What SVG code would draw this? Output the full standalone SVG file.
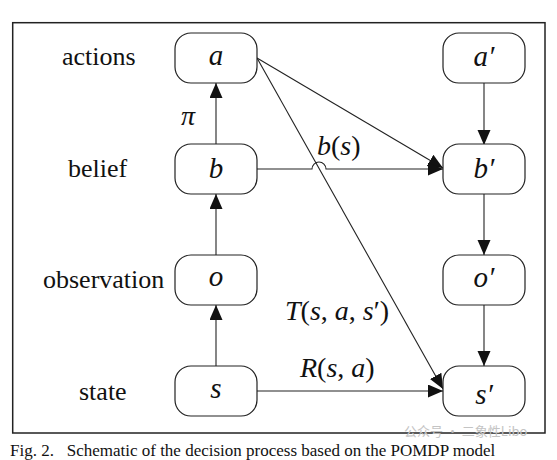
<svg xmlns="http://www.w3.org/2000/svg" width="557" height="460" viewBox="0 0 557 460">
<style>
.frame{fill:none;stroke:#222;stroke-width:1.5}
.box{fill:#fff;stroke:#222;stroke-width:1.2}
.lbl{font-family:"Liberation Serif","Times New Roman",serif;font-size:26px;fill:#111}
.nt{font-family:"Liberation Serif","Times New Roman",serif;font-size:29px;font-style:italic;fill:#111;text-anchor:middle}
.m{font-family:"Liberation Serif","Times New Roman",serif;font-size:28px;fill:#111}
.i{font-style:italic}
.cn{fill:none;stroke:#222;stroke-width:1.1}
.cap{font-family:"Liberation Serif","Times New Roman",serif;font-size:17px;fill:#111}
.wm{font-family:"Noto Sans CJK SC","Liberation Sans",sans-serif;font-size:13px;fill:#c4c4c4}
</style>
<defs>
<marker id="ah" markerUnits="userSpaceOnUse" markerWidth="16" markerHeight="14" refX="15" refY="6.5" orient="auto">
<path d="M0,0 L15,6.5 L0,13 Z" fill="#111"/>
</marker>
</defs>
<rect width="557" height="460" fill="#fff"/>
<rect class="frame" x="12.7" y="22.7" width="532.3" height="410.3"/>

<g id="row-labels">
<text class="lbl" x="62" y="65">actions</text>
<text class="lbl" x="68" y="177">belief</text>
<text class="lbl" x="43" y="288">observation</text>
<text class="lbl" x="79" y="400">state</text>
</g>

<g id="connectors">
<line class="cn" x1="216" y1="144" x2="216" y2="83" marker-end="url(#ah)"/>
<line class="cn" x1="216" y1="255" x2="216" y2="194" marker-end="url(#ah)"/>
<line class="cn" x1="216" y1="366" x2="216" y2="305" marker-end="url(#ah)"/>
<line class="cn" x1="484" y1="83" x2="484" y2="145" marker-end="url(#ah)"/>
<line class="cn" x1="484" y1="193" x2="484" y2="255" marker-end="url(#ah)"/>
<line class="cn" x1="484" y1="305" x2="484" y2="366" marker-end="url(#ah)"/>
<line class="cn" x1="257" y1="58" x2="443" y2="168" marker-end="url(#ah)"/>
<line class="cn" x1="257" y1="58" x2="443" y2="389" marker-end="url(#ah)"/>
<path class="cn" d="M257,169 H312 A7,7 0 0 1 326,169 H443" marker-end="url(#ah)"/>
<line class="cn" x1="257" y1="391" x2="443" y2="391" marker-end="url(#ah)"/>
</g>

<g id="node-a"><rect class="box" x="175" y="33" width="82" height="50" rx="16"/><text class="nt" x="216" y="65">a</text></g>
<g id="node-b"><rect class="box" x="175" y="144" width="82" height="50" rx="16"/><text class="nt" x="216" y="178">b</text></g>
<g id="node-o"><rect class="box" x="175" y="255" width="82" height="50" rx="16"/><text class="nt" x="216" y="286">o</text></g>
<g id="node-s"><rect class="box" x="175" y="366" width="82" height="50" rx="16"/><text class="nt" x="216" y="398">s</text></g>
<g id="node-a2"><rect class="box" x="443" y="33" width="82" height="50" rx="16"/><text class="nt" x="484" y="66">a′</text></g>
<g id="node-b2"><rect class="box" x="443" y="144" width="82" height="50" rx="16"/><text class="nt" x="484" y="178">b′</text></g>
<g id="node-o2"><rect class="box" x="443" y="255" width="82" height="50" rx="16"/><text class="nt" x="484" y="287">o′</text></g>
<g id="node-s2"><rect class="box" x="443" y="366" width="82" height="50" rx="16"/><text class="nt" x="484" y="404">s′</text></g>

<g id="edge-labels">
<text class="m i" x="181" y="125">π</text>
<text class="m" x="317" y="155"><tspan class="i">b</tspan>(<tspan class="i">s</tspan>)</text>
<text class="m" x="285" y="320"><tspan class="i">T</tspan>(<tspan class="i">s</tspan>, <tspan class="i">a</tspan>, <tspan class="i">s</tspan>′)</text>
<text class="m" x="300" y="377"><tspan class="i">R</tspan>(<tspan class="i">s</tspan>, <tspan class="i">a</tspan>)</text>
</g>

<text class="cap" x="10" y="456" xml:space="preserve">Fig. 2.   Schematic of the decision process based on the POMDP model</text>
<text class="wm" x="404" y="436">公众号 · 二象性Libo</text>
</svg>
